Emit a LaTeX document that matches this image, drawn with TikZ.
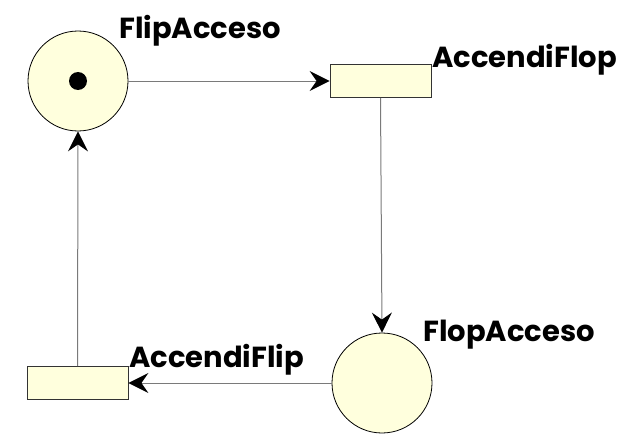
\documentclass[tikz,border=0pt]{standalone}
\usepackage{fontspec}
\setmainfont{Poppins}
\usetikzlibrary{arrows.meta}
\definecolor{fillY}{HTML}{FFFFDD}
\definecolor{lineG}{HTML}{7A7A7A}
\begin{document}
\begin{tikzpicture}[x=1pt,y=-1pt,
  place/.style={circle,draw=black,fill=fillY,minimum size=100pt,inner sep=0pt,line width=0.8pt},
  trans/.style={rectangle,draw=black!80,fill=fillY,minimum width=101pt,minimum height=33pt,inner sep=0pt,line width=0.8pt},
  lab/.style={font=\fontsize{29}{31}\selectfont\bfseries,inner sep=0pt,anchor=base west},
  arc/.style={draw=lineG,line width=1pt,-{Stealth[length=20pt,width=20pt,inset=7pt,black]}}]
\useasboundingbox (0,0) rectangle (637,444);
\node[place] (p1) at (78,81) {};
\fill[black] (p1.center) circle (9pt);
\node[trans] (t1) at (380.5,81) {};
\node[place] (p2) at (382,383) {};
\node[trans] (t2) at (77.5,383) {};
\node[lab] (l1) at (119,39) {FlipAcceso};
\node[lab] (l2) at (432,67) {AccendiFlop};
\node[lab] (l3) at (423,341) {FlopAcceso};
\node[lab] (l4) at (129,367) {AccendiFlip};
\draw[arc] (p1.east) -- (t1.west);
\draw[arc] (t1.south) -- (p2.north);
\draw[arc] (p2.west) -- (t2.east);
\draw[arc] (t2.north) -- (p1.south);
\end{tikzpicture}
\end{document}
